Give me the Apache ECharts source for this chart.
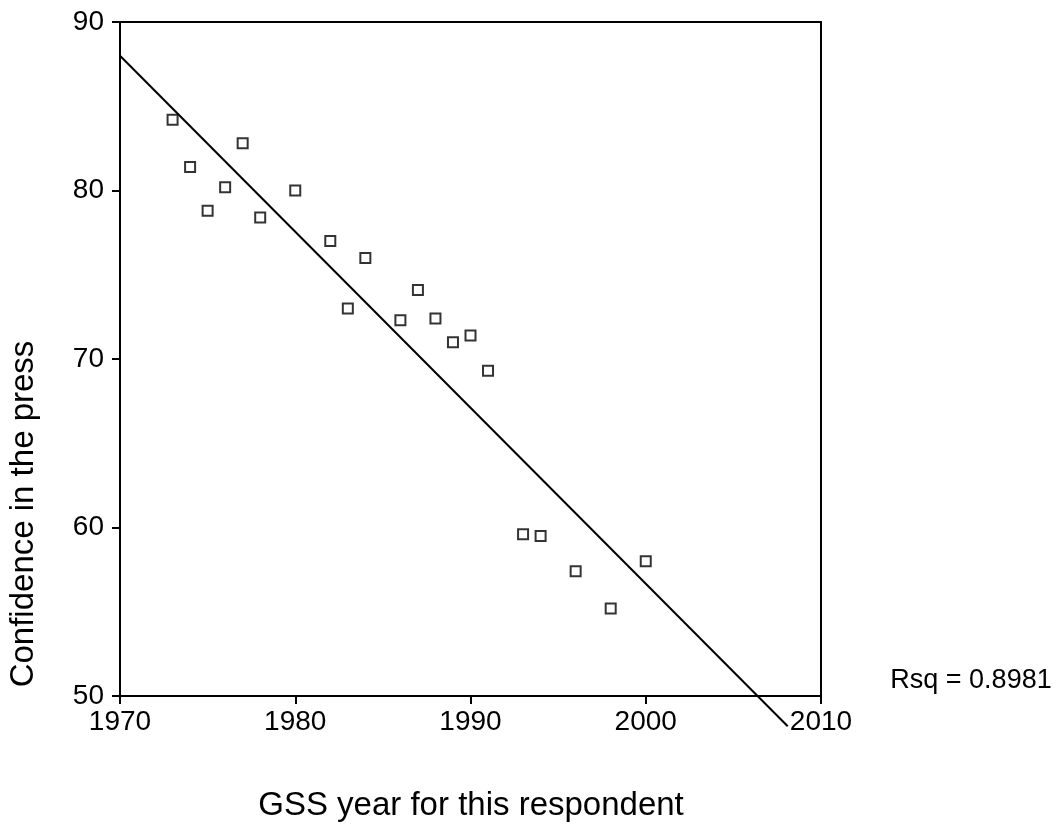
<!DOCTYPE html>
<html>
<head>
<meta charset="utf-8">
<script src="https://cdn.jsdelivr.net/npm/echarts@6/dist/echarts.min.js"></script>
<style>
  html, body { margin: 0; padding: 0; background: #fff; }
  #chart { width: 1060px; height: 824px; }
</style>
</head>
<body>
<div id="chart"></div>
<script>
// 数据：年份与信心值
const years = [1973, 1974, 1975, 1976, 1977, 1978, 1980, 1982, 1983, 1984, 1986, 1987, 1988, 1989, 1990, 1991, 1993, 1994, 1996, 1998, 2000];
const confidence = [84.2, 81.4, 78.8, 80.2, 82.8, 78.4, 80.0, 77.0, 73.0, 76.0, 72.3, 74.1, 72.4, 71.0, 71.4, 69.3, 59.6, 59.5, 57.4, 55.2, 58.0];
// 回归线两端
const fitLine = [[1970, 88.0], [2008.1, 48.2]];
const rsqText = 'Rsq = 0.8981';

const FONT = '"Liberation Sans", Arial, sans-serif';

const chart = echarts.init(document.getElementById('chart'), null, { renderer: 'canvas' });

const axisCommon = {
  type: 'value',
  interval: 10,
  axisLine: { show: true, lineStyle: { color: '#000', width: 2 } },
  axisTick: { show: true, inside: false, length: 8, lineStyle: { color: '#000', width: 2 } },
  splitLine: { show: false }
};

chart.setOption({
  backgroundColor: '#fff',
  animation: false,
  grid: {
    left: 120, right: 239, top: 22, bottom: 128,
    show: true, borderColor: '#000', borderWidth: 2
  },
  xAxis: Object.assign({}, axisCommon, {
    min: 1970, max: 2010,
    axisLabel: { color: '#000', fontSize: 28, fontFamily: FONT, margin: 12, formatter: v => String(v) }
  }),
  yAxis: Object.assign({}, axisCommon, {
    min: 50, max: 90,
    axisLabel: { color: '#000', fontSize: 28, fontFamily: FONT, margin: 16 }
  }),
  series: [
    {
      type: 'line',
      data: fitLine,
      clip: false,
      symbol: 'none',
      lineStyle: { color: '#000', width: 2 },
      z: 2
    },
    {
      type: 'scatter',
      data: years.map((y, i) => [y, confidence[i]]),
      symbol: 'rect',
      symbolSize: 10,
      itemStyle: { color: '#fff', borderColor: '#000', borderWidth: 2 },
      z: 3
    }
  ],
  graphic: [
    {
      type: 'text', x: 471, y: 806,
      style: { text: 'GSS year for this respondent', font: '33px ' + FONT, fill: '#000', textAlign: 'center', textVerticalAlign: 'middle' }
    },
    {
      type: 'text', x: 24, y: 514, rotation: Math.PI / 2,
      style: { text: 'Confidence in the press', font: '33px ' + FONT, fill: '#000', textAlign: 'center', textVerticalAlign: 'middle' }
    },
    {
      type: 'text', x: 971, y: 681,
      style: { text: rsqText, font: '27px ' + FONT, fill: '#000', textAlign: 'center', textVerticalAlign: 'middle' }
    }
  ]
});
</script>
</body>
</html>
